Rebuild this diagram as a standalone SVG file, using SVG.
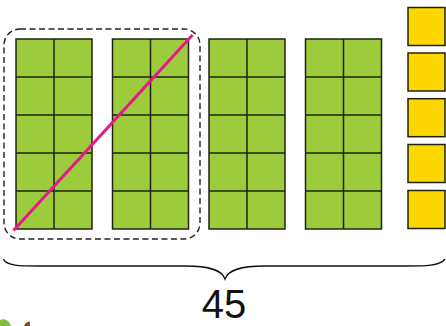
<svg xmlns="http://www.w3.org/2000/svg" width="446" height="326" viewBox="0 0 446 326">
<defs>
<style>
.g{fill:#9ccb3b;stroke:#1e2410;stroke-width:1.5}
.y{fill:#ffd700;stroke:#1e2410;stroke-width:1.5}
.grid{stroke:#1e2410;stroke-width:1.5;fill:none}
</style>
</defs>
<g id="rod1">
<rect class="g" x="16" y="39" width="76" height="190"/>
<path class="grid" d="M54 39V229M16 77H92M16 115H92M16 153H92M16 191H92"/>
</g>
<g id="rod2">
<rect class="g" x="112.5" y="39" width="76" height="190"/>
<path class="grid" d="M150.5 39V229M112.5 77H188.5M112.5 115H188.5M112.5 153H188.5M112.5 191H188.5"/>
</g>
<g id="rod3">
<rect class="g" x="209" y="39" width="76" height="190"/>
<path class="grid" d="M247 39V229M209 77H285M209 115H285M209 153H285M209 191H285"/>
</g>
<g id="rod4">
<rect class="g" x="305.5" y="39" width="76" height="190"/>
<path class="grid" d="M343.5 39V229M305.5 77H381.5M305.5 115H381.5M305.5 153H381.5M305.5 191H381.5"/>
</g>
<g id="units">
<rect class="y" x="408" y="7.5" width="37" height="38"/>
<rect class="y" x="408" y="53" width="37" height="38"/>
<rect class="y" x="408" y="98.7" width="37" height="38"/>
<rect class="y" x="408" y="144.5" width="37" height="38"/>
<rect class="y" x="408" y="190.5" width="37" height="38"/>
</g>
<g id="group-box">
<rect x="4" y="29" width="196" height="210" rx="16" ry="16" fill="none" stroke="#222" stroke-width="1.4" stroke-dasharray="6,3.5"/>
</g>
<g id="connectors">
<line x1="13.5" y1="230.5" x2="192.5" y2="35" stroke="#e8178a" stroke-width="3"/>
</g>
<g id="brace">
<path d="M3.5 259 C6 266 20 266 40 266 L185 266 C210 266 222 270 225 279 C228 270 240 266 265 266 L405 266 C425 266 440 266 445 259" fill="none" stroke="#111" stroke-width="1.3"/>
</g>
<text x="224" y="318" font-family="Liberation Sans, Arial, sans-serif" font-size="40" text-anchor="middle" fill="#111">45</text>
<g id="corner-art">
<path d="M0 320 C4 318 9 320 11 326 L0 326Z" fill="#7fbf3a"/>
<path d="M24 326 C25 323 28 321 30 322 L30 326Z" fill="#8a4a2a"/>
</g>
</svg>
